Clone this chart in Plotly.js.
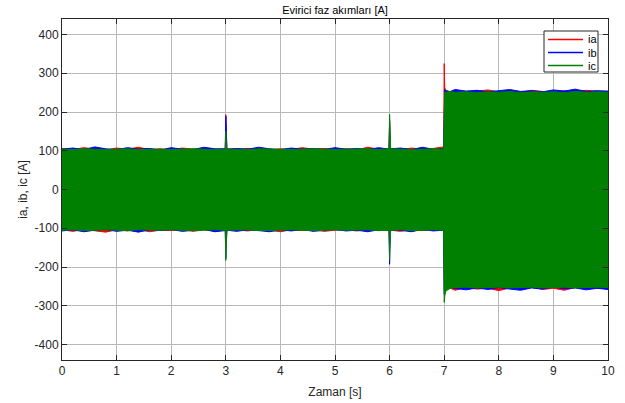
<!DOCTYPE html>
<html>
<head>
<meta charset="utf-8">
<script src="https://cdn.plot.ly/plotly-3.0.1.min.js"></script>
<style>html,body{margin:0;padding:0;background:#fff;}#chart{width:625px;height:403px;}</style>
</head>
<body>
<div id="chart"></div>
<script>
const t = [
  0, 0.2, 0.4, 0.6, 0.8, 1.0, 1.2, 1.4, 1.6, 1.8,
  2.0, 2.2, 2.4, 2.6, 2.8, 2.99, 3.0, 3.01, 3.02, 3.2,
  3.4, 3.6, 3.8, 4.0, 4.2, 4.4, 4.6, 4.8, 5.0, 5.2,
  5.4, 5.6, 5.8, 5.99, 6.0, 6.01, 6.02, 6.2, 6.4, 6.6,
  6.8, 6.99, 7.0, 7.01, 7.03, 7.1, 7.2, 7.4, 7.6, 7.8,
  8.0, 8.2, 8.4, 8.6, 8.8, 9.0, 9.2, 9.4, 9.6, 9.8,
  10.0
];
// Phase a (ia) upper / lower envelope [A]
const iaMax = [
  106, 103, 108, 104, 102, 107, 104, 109, 103, 105,
  102, 107, 104, 106, 103, 104, 193, 115, 105, 103,
  106, 104, 102, 105, 103, 108, 104, 106, 103, 105,
  102, 109, 104, 105, 180, 110, 104, 103, 107, 104,
  106, 110, 325, 262, 256, 253, 255, 250, 254, 257,
  252, 255, 251, 256, 253, 250, 255, 252, 256, 253,
  251
];
const iaMin = [
  -104, -108, -103, -106, -110, -104, -107, -103, -109, -105,
  -106, -103, -108, -104, -107, -105, -110, -135, -106, -104,
  -107, -103, -105, -109, -104, -106, -103, -108, -105, -104,
  -107, -104, -106, -105, -150, -112, -105, -108, -104, -106,
  -103, -106, -262, -259, -256, -254, -260, -253, -257, -255,
  -261, -254, -256, -252, -258, -255, -260, -253, -256, -254,
  -257
];
// Phase b (ib)
const ibMax = [
  104, 107, 103, 110, 105, 103, 108, 104, 106, 102,
  108, 104, 103, 109, 105, 105, 189, 110, 104, 106,
  104, 109, 105, 103, 107, 104, 106, 103, 108, 104,
  106, 103, 108, 104, 175, 108, 105, 107, 103, 109,
  104, 105, 256, 258, 255, 252, 258, 254, 256, 252,
  255, 258, 253, 255, 252, 257, 254, 259, 253, 255,
  254
];
const ibMin = [
  -107, -104, -109, -105, -103, -108, -105, -110, -104, -106,
  -103, -108, -105, -103, -109, -106, -178, -120, -105, -108,
  -104, -106, -109, -104, -107, -103, -108, -105, -103, -107,
  -105, -109, -104, -106, -193, -120, -104, -105, -109, -103,
  -107, -105, -270, -262, -257, -253, -256, -259, -254, -258,
  -253, -257, -260, -254, -257, -252, -256, -254, -259, -255,
  -258
];
// Phase c (ic)
const icMax = [
  104, 103, 105, 104, 103, 104, 105, 103, 104, 104,
  103, 104, 105, 104, 103, 104, 150, 112, 104, 104,
  103, 105, 104, 104, 103, 104, 105, 104, 103, 104,
  104, 105, 103, 105, 194, 120, 105, 104, 103, 104,
  105, 104, 250, 252, 251, 253, 251, 252, 250, 252,
  251, 253, 250, 252, 251, 252, 250, 253, 251, 252,
  251
];
const icMin = [
  -105, -104, -106, -105, -104, -105, -106, -104, -105, -105,
  -104, -105, -106, -105, -104, -105, -183, -140, -105, -105,
  -104, -106, -105, -105, -104, -105, -106, -105, -104, -105,
  -105, -104, -106, -105, -180, -130, -105, -104, -106, -105,
  -104, -105, -291, -275, -262, -256, -253, -252, -254, -253,
  -252, -254, -253, -252, -254, -253, -252, -254, -253, -252,
  -253
];
const seriesNames = ['ia', 'ib', 'ic'];
const seriesColors = ['#ff0000', '#0000ff', '#008000'];
const xTicks = [0, 1, 2, 3, 4, 5, 6, 7, 8, 9, 10];
const yTicks = [-400, -300, -200, -100, 0, 100, 200, 300, 400];

const W = 625, H = 403;
const M = {l: 62, r: 17, t: 19, b: 43};
const plotW = W - M.l - M.r, plotH = H - M.t - M.b;
const px2x = p => (p - M.l) / plotW;
const px2y = p => 1 - (p - M.t) / plotH;

const uppers = [iaMax, ibMax, icMax];
const lowers = [iaMin, ibMin, icMin];
const traces = [];
const tRev = t.slice().reverse();
for (let k = 0; k < 3; k++) {
  traces.push({
    type: 'scatter', mode: 'lines',
    x: t.concat(tRev),
    y: uppers[k].concat(lowers[k].slice().reverse()),
    fill: 'toself', fillcolor: seriesColors[k],
    line: {color: seriesColors[k], width: 1},
    name: seriesNames[k], showlegend: false, hoverinfo: 'skip'
  });
}

const axCol = '#262626';
const fam = '"Liberation Sans", Arial, sans-serif';

// Compact MATLAB-style legend box (pixel placement)
const leg = {left: 544, right: 598, top: 31, bottom: 72, row0: 39.5, rowStep: 13, lineX0: 548, lineX1: 583, textX: 586};
const shapes = [{type: 'rect', xref: 'paper', yref: 'paper',
  x0: px2x(leg.left), x1: px2x(leg.right), y0: px2y(leg.bottom), y1: px2y(leg.top),
  line: {color: axCol, width: 1}, fillcolor: '#fff', layer: 'above'}];
const annotations = [];
seriesNames.forEach((nm, k) => {
  const yy = px2y(leg.row0 + k * leg.rowStep);
  shapes.push({type: 'line', xref: 'paper', yref: 'paper', x0: px2x(leg.lineX0), x1: px2x(leg.lineX1), y0: yy, y1: yy,
    line: {color: seriesColors[k], width: 1.5}, layer: 'above'});
  annotations.push({xref: 'paper', yref: 'paper', x: px2x(leg.textX), y: yy, xanchor: 'left', yanchor: 'middle',
    text: nm, showarrow: false, font: {family: fam, size: 11, color: '#000'}});
});

const layout = {
  width: W, height: H,
  margin: {l: M.l, r: M.r, t: M.t, b: M.b, pad: 0},
  paper_bgcolor: '#fff', plot_bgcolor: '#fff',
  font: {family: fam, size: 12, color: axCol},
  title: {text: 'Evirici faz akımları [A]', font: {family: fam, size: 11, color: '#000'},
          xref: 'paper', x: 0.5, xanchor: 'center', yref: 'container', y: 0.975, yanchor: 'middle'},
  xaxis: {range: [0, 10], tickvals: xTicks, ticktext: xTicks.map(String),
          showgrid: true, gridcolor: '#b8b8b8', gridwidth: 1, zeroline: false,
          showline: true, linecolor: axCol, linewidth: 1, mirror: 'ticks',
          ticks: 'inside', ticklen: 5, tickcolor: axCol, tickfont: {size: 12, color: axCol},
          title: {text: 'Zaman [s]', font: {size: 12, color: axCol}, standoff: 10}},
  yaxis: {range: [-440, 440], tickvals: yTicks, ticktext: yTicks.map(String),
          showgrid: true, gridcolor: '#b8b8b8', gridwidth: 1, zeroline: false,
          showline: true, linecolor: axCol, linewidth: 1, mirror: 'ticks',
          ticks: 'inside', ticklen: 5, tickcolor: axCol, tickfont: {size: 12, color: axCol},
          title: {text: 'ia, ib, ic [A]', font: {size: 12, color: axCol}, standoff: 4}},
  showlegend: false,
  shapes: shapes,
  annotations: annotations
};
Plotly.newPlot('chart', traces, layout, {staticPlot: true, displayModeBar: false});
</script>
</body>
</html>
